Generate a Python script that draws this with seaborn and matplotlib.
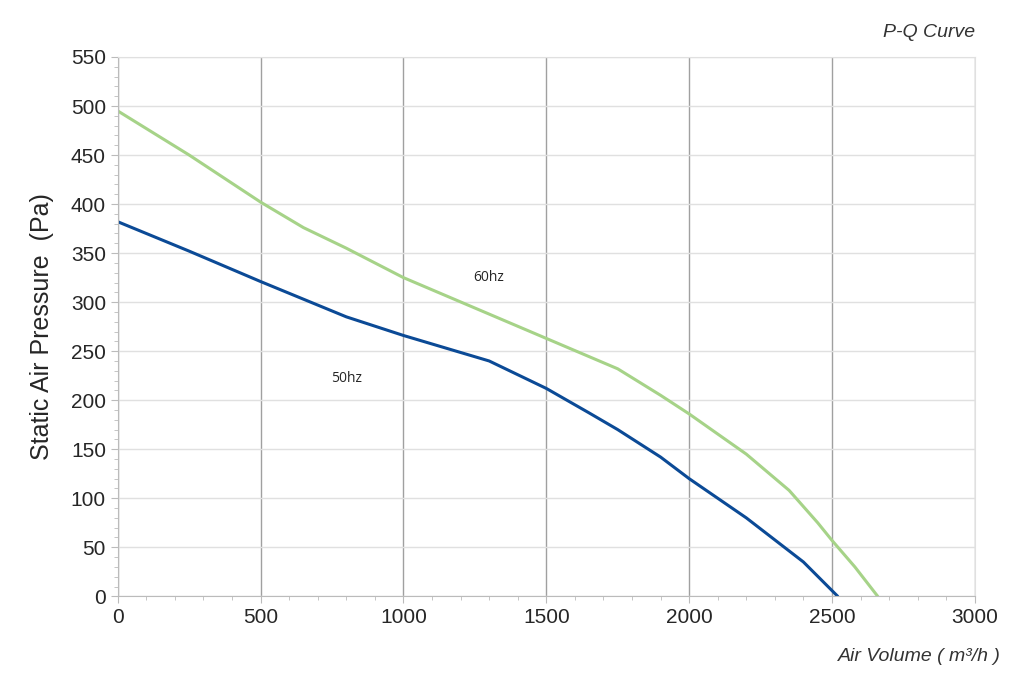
import pandas as pd
import matplotlib.pyplot as plt
import seaborn as sns
from matplotlib.ticker import MultipleLocator

# Curve data
q_60 = [0, 250, 500, 650, 800, 1000, 1250, 1500, 1750, 1900, 2000, 2200, 2350, 2450, 2500, 2580, 2660]
p_60 = [495, 450, 402, 376, 355, 325, 294, 263, 232, 205, 186, 145, 108, 75, 57, 30, 0]
q_50 = [0, 250, 500, 800, 1000, 1300, 1500, 1650, 1750, 1900, 2000, 2200, 2400, 2520]
p_50 = [382, 352, 321, 285, 266, 240, 212, 187, 170, 142, 120, 80, 35, 0]

df = pd.concat([
    pd.DataFrame({"q": q_60, "p": p_60, "freq": "60hz"}),
    pd.DataFrame({"q": q_50, "p": p_50, "freq": "50hz"}),
])

sns.set_style("white")
plt.rcParams["font.family"] = ["Liberation Sans", "DejaVu Sans"]
fig, ax = plt.subplots(figsize=(10.24, 6.95), dpi=100)
fig.subplots_adjust(left=0.115, right=0.952, top=0.918, bottom=0.142)

sns.lineplot(data=df, x="q", y="p", hue="freq", palette={"60hz": "#a6d388", "50hz": "#0b4a96"},
             linewidth=2.2, legend=False, ax=ax, sort=False)

ax.set_xlim(0, 3000)
ax.set_ylim(0, 550)
ax.xaxis.set_major_locator(MultipleLocator(500))
ax.xaxis.set_minor_locator(MultipleLocator(100))
ax.yaxis.set_major_locator(MultipleLocator(50))
ax.yaxis.set_minor_locator(MultipleLocator(10))
ax.grid(axis="y", which="major", color="#e0e0e0", linewidth=1)
ax.grid(axis="x", which="major", color="#a0a0a0", linewidth=1)
ax.set_axisbelow(True)
for s in ["top", "right"]:
    ax.spines[s].set_color("#e0e0e0")
for s in ["left", "bottom"]:
    ax.spines[s].set_color("#bbbbbb")
ax.tick_params(axis="both", which="both", bottom=True, left=True, color="#bbbbbb")
ax.tick_params(axis="both", which="major", labelsize=15, length=5)
ax.tick_params(axis="both", which="minor", length=3)

ax.set_xlabel("")
ax.set_ylabel("Static Air Pressure  (Pa)", fontsize=18, labelpad=12)
ax.text(1.0, 1.03, "P-Q Curve", transform=ax.transAxes, ha="right", va="bottom",
        fontsize=14, style="italic", color="#333333")
ax.text(1.03, -0.095, "Air Volume ( m\u00b3/h )", transform=ax.transAxes, ha="right", va="top",
        fontsize=14, style="italic", color="#333333")
ax.text(1300, 325, "60hz", fontsize=10, ha="center", va="center", family="Open Sans")
ax.text(800, 222, "50hz", fontsize=10, ha="center", va="center", family="Open Sans")

fig.savefig("out.png")
